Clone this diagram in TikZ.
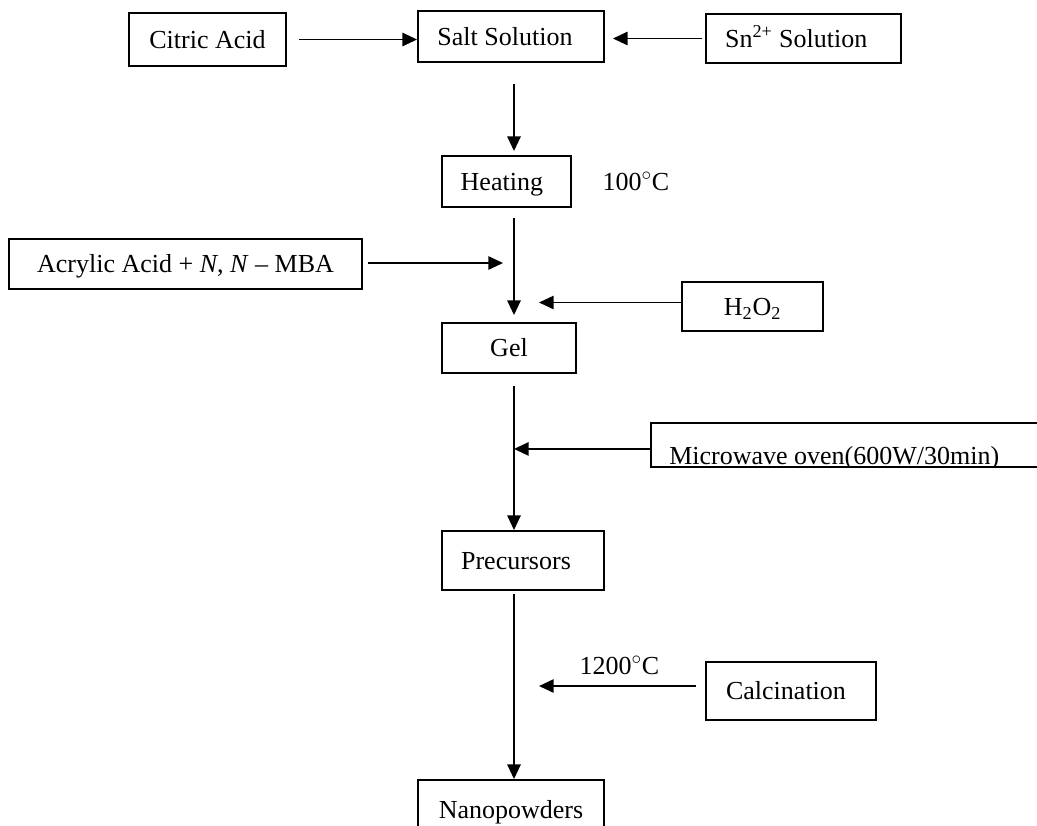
\documentclass[tikz,border=0pt]{standalone}
\usepackage{fontspec}
\setmainfont{Liberation Serif}
\usetikzlibrary{arrows.meta,calc}
\begin{document}
\begin{tikzpicture}[x=0.75pt,y=-0.75pt,
  font=\fontsize{19.5}{22}\selectfont,
  box/.style={draw, line width=1.4pt, inner sep=0pt, align=center, text height=14.9pt, text depth=2pt},
  arr/.style={line width=1.3pt, -{Triangle[length=11pt,width=10pt]}},
  lbl/.style={inner sep=0pt}]
\useasboundingbox (0,0) rectangle (1037,825);
\coordinate (col) at (514,0);
% boxes
\node[box, minimum width=117.75pt, minimum height=39.75pt] (cit) at (207.5,39.5) {Citric Acid};
\node[box, minimum width=139.5pt, minimum height=38.25pt] (salt) at (511,36.5) {Salt Solution\hspace*{9pt}};
\node[box, minimum width=146.25pt, minimum height=36.75pt] (sn) at (803.5,38.5) {Sn\textsuperscript{2+} Solution\hspace*{11pt}};
\node[box, minimum width=96.75pt, minimum height=38.25pt] (heat) at (506.5,181.5) {Heating\hspace*{7pt}};
\node[lbl] (t100) at (636,181) {100$^{\circ}$C};
\node[box, minimum width=264.75pt, minimum height=37.5pt] (acr) at (185.5,264) {Acrylic Acid + \textit{N}, \textit{N} – MBA};
\node[box, minimum width=105.75pt, minimum height=36.75pt] (h2o2) at (752.5,306.5) {H\textsubscript{2}O\textsubscript{2}};
\node[box, minimum width=100.5pt, minimum height=37.5pt] (gel) at (509,348) {Gel};
\node[box, minimum width=296.25pt, minimum height=33pt, anchor=north west] (mw) at (650,422) {};
\begin{scope}
\clip (mw.north west) rectangle (mw.south east);
\node[lbl, anchor=base west] (mwt) at (669,464) {Microwave oven(600W/30min)};
\end{scope}
\node[box, minimum width=121.5pt, minimum height=44.25pt] (prec) at (523,560.5) {Precursors\hspace*{10.5pt}};
\node[lbl] (t1200) at (619.5,665) {1200$^{\circ}$C};
\node[box, minimum width=127.5pt, minimum height=43.5pt] (calc) at (791,691) {Calcination\hspace*{7.5pt}};
\node[box, minimum width=139.5pt, minimum height=44.25pt] (nano) at (511,809.5) {Nanopowders};
% connectors
\draw[arr] ($(cit.east)+(12,0)$) -- (cit.east -| salt.west);
\draw[arr] ($(sn.west)+(-3,0)$) -- ($(salt.east |- sn.west)+(8,0)$);
\draw[arr] ($(salt.south -| col)+(0,21)$) -- ($(heat.north -| col)+(0,-4)$);
\draw[arr] ($(heat.south -| col)+(0,10)$) -- ($(gel.north -| col)+(0,-7)$);
\draw[arr] ($(acr.east)+(5,-1)$) -- ($(acr.east -| col)+(-11,-1)$);
\draw[arr] ($(h2o2.west)+(0,-4)$) -- ($(h2o2.west -| col)+(25,-4)$);
\draw[arr] ($(gel.south -| col)+(0,12)$) -- (prec.north -| col);
\draw[arr] ($(mw.west)+(0,4)$) -- ($(mw.west -| col)+(0,4)$);
\draw[arr] ($(prec.south -| col)+(0,3)$) -- (nano.north -| col);
\draw[arr] ($(calc.west)+(-9,-5)$) -- ($(calc.west -| col)+(25,-5)$);
\end{tikzpicture}
\end{document}
